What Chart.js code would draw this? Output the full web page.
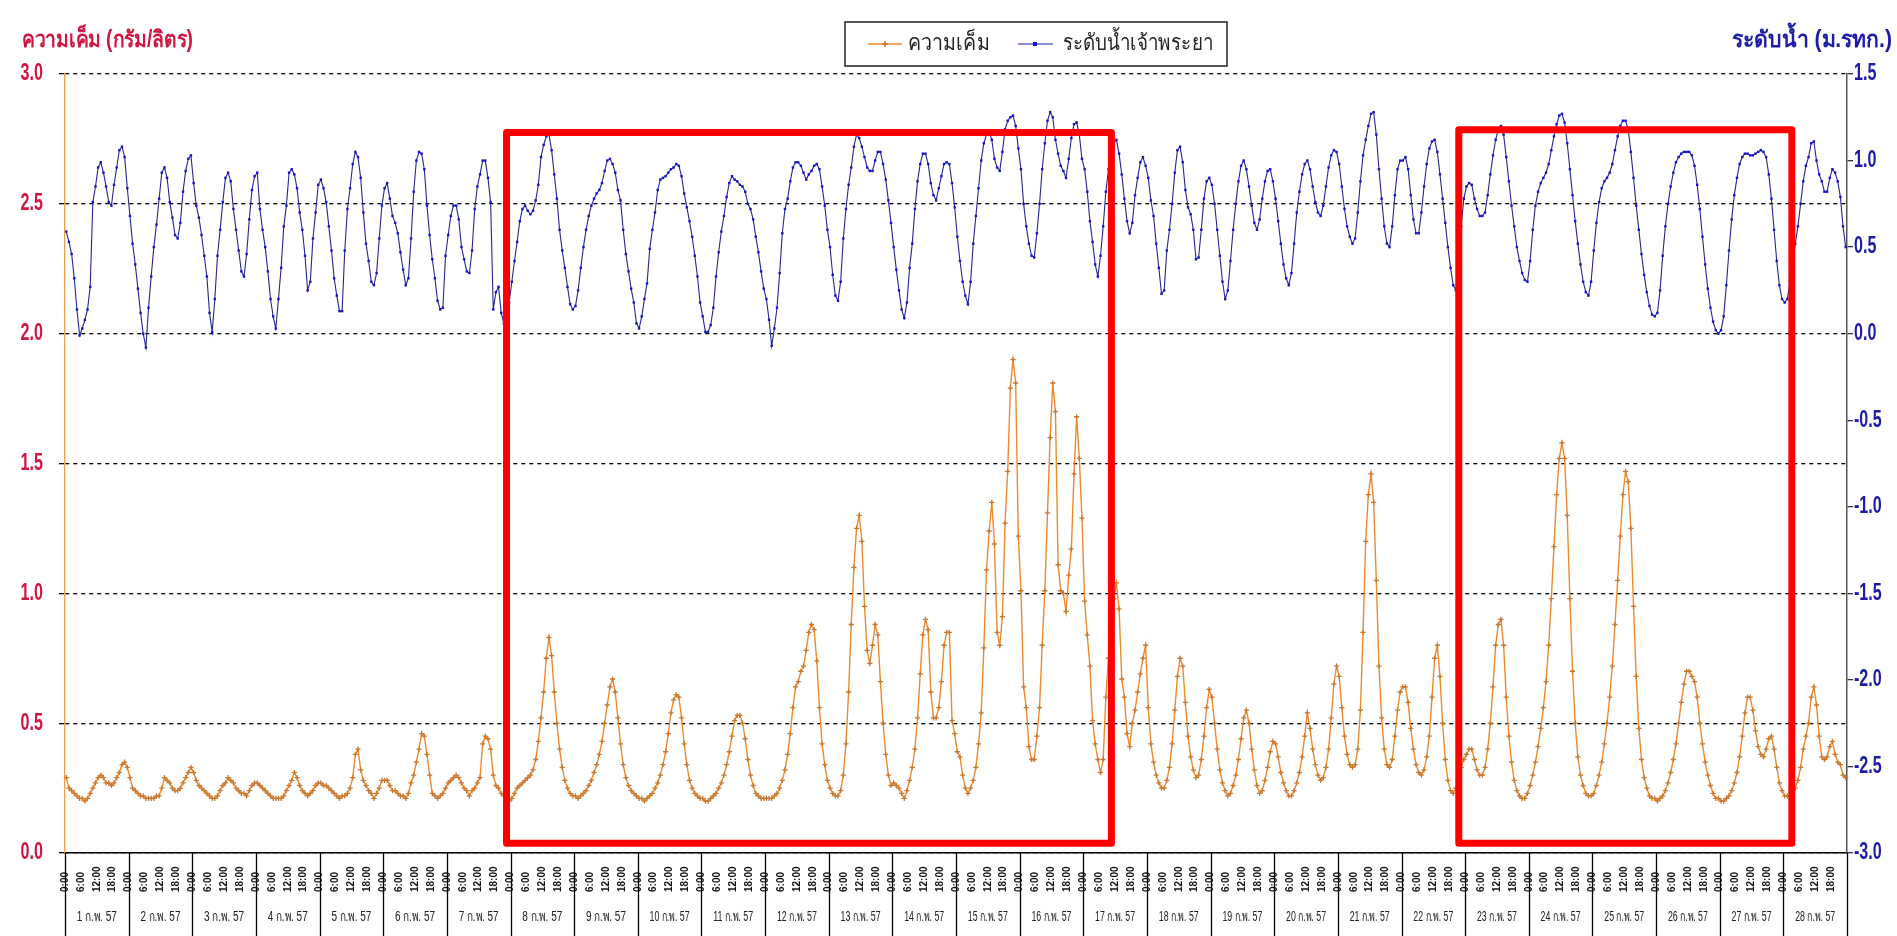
<!DOCTYPE html>
<html lang="th">
<head>
<meta charset="UTF-8">
<title>ความเค็ม และ ระดับน้ำเจ้าพระยา ก.พ. 57</title>
<script src="https://cdn.jsdelivr.net/npm/chart.js"></script>
<style>
  html, body { margin: 0; padding: 0; background: #fff; }
  canvas { display: block; }
</style>
</head>
<body>
<canvas id="chart" width="1897" height="936"></canvas>
<script>
// day labels (1-28 Feb 2014 / ก.พ. 57), hourly readings
const dayLabels = Array.from({ length: 28 }, (_, i) => (i + 1) + ' ก.พ. 57');
const hourTicks = ['0:00', '6:00', '12:00', '18:00'];
const hourTickAt = [0, 6, 12, 18];

// salinity, g/l (left axis) - one row per day, 0:00 .. 23:00
const salinity = [
  0.29,0.25,0.24,0.23,0.22,0.21,0.21,0.20,0.21,0.23,0.25,0.27,0.29,0.30,0.29,0.27,0.27,0.26,0.27,0.29,0.31,0.34,0.35,0.33,
  0.29,0.25,0.24,0.23,0.22,0.22,0.21,0.21,0.21,0.21,0.22,0.22,0.25,0.29,0.28,0.27,0.25,0.24,0.24,0.25,0.27,0.29,0.31,0.33,
  0.31,0.28,0.26,0.25,0.24,0.23,0.22,0.21,0.21,0.22,0.24,0.26,0.27,0.29,0.28,0.27,0.25,0.24,0.23,0.23,0.22,0.24,0.26,0.27,
  0.27,0.26,0.25,0.24,0.23,0.22,0.21,0.21,0.21,0.21,0.22,0.24,0.26,0.28,0.31,0.29,0.26,0.24,0.23,0.22,0.23,0.24,0.26,0.27,
  0.27,0.26,0.26,0.25,0.24,0.23,0.22,0.21,0.22,0.22,0.23,0.25,0.29,0.38,0.40,0.32,0.28,0.26,0.24,0.23,0.21,0.23,0.25,0.28,
  0.28,0.28,0.26,0.24,0.24,0.23,0.22,0.22,0.21,0.23,0.27,0.30,0.35,0.40,0.46,0.45,0.38,0.30,0.23,0.22,0.21,0.22,0.23,0.25,
  0.27,0.28,0.29,0.30,0.29,0.27,0.25,0.24,0.22,0.24,0.25,0.27,0.29,0.42,0.45,0.44,0.40,0.30,0.26,0.25,0.23,0.22,0.21,0.20,
  0.21,0.23,0.25,0.26,0.27,0.28,0.29,0.30,0.32,0.36,0.43,0.52,0.62,0.75,0.83,0.76,0.62,0.50,0.40,0.33,0.28,0.25,0.23,0.22,
  0.22,0.21,0.22,0.23,0.24,0.26,0.28,0.31,0.34,0.38,0.43,0.50,0.57,0.64,0.67,0.62,0.52,0.42,0.34,0.29,0.26,0.24,0.23,0.22,
  0.21,0.21,0.20,0.21,0.22,0.23,0.25,0.27,0.30,0.34,0.39,0.46,0.54,0.59,0.61,0.60,0.52,0.42,0.34,0.28,0.25,0.23,0.22,0.21,
  0.21,0.20,0.20,0.21,0.22,0.23,0.25,0.27,0.30,0.34,0.39,0.45,0.51,0.53,0.53,0.50,0.44,0.36,0.30,0.26,0.23,0.22,0.21,0.21,
  0.21,0.21,0.21,0.22,0.23,0.25,0.28,0.32,0.38,0.46,0.56,0.64,0.66,0.70,0.72,0.78,0.85,0.88,0.86,0.74,0.56,0.42,0.34,0.28,
  0.25,0.23,0.22,0.22,0.24,0.30,0.42,0.62,0.88,1.10,1.25,1.30,1.20,0.95,0.78,0.73,0.80,0.88,0.84,0.66,0.50,0.38,0.30,0.26,
  0.27,0.26,0.25,0.23,0.21,0.24,0.28,0.33,0.40,0.52,0.69,0.84,0.90,0.86,0.62,0.52,0.52,0.56,0.66,0.80,0.85,0.85,0.51,0.46,
  0.39,0.37,0.30,0.25,0.23,0.25,0.28,0.33,0.42,0.54,0.79,1.09,1.24,1.35,1.19,0.85,0.80,0.91,1.27,1.47,1.79,1.90,1.81,1.22,
  1.01,0.64,0.56,0.41,0.36,0.36,0.45,0.56,0.80,1.01,1.31,1.60,1.81,1.70,1.11,1.01,1.00,0.93,1.07,1.17,1.46,1.68,1.52,1.29,
  0.97,0.84,0.72,0.51,0.42,0.36,0.31,0.36,0.60,0.75,0.88,0.98,1.04,0.94,0.67,0.60,0.46,0.41,0.50,0.55,0.62,0.69,0.75,0.80,
  0.56,0.42,0.35,0.30,0.27,0.25,0.25,0.28,0.33,0.42,0.55,0.68,0.75,0.72,0.58,0.45,0.37,0.32,0.29,0.30,0.36,0.45,0.56,0.63,
  0.60,0.50,0.40,0.32,0.27,0.24,0.22,0.23,0.26,0.30,0.36,0.44,0.52,0.55,0.50,0.40,0.32,0.26,0.23,0.24,0.28,0.33,0.39,0.43,
  0.42,0.37,0.31,0.27,0.24,0.22,0.22,0.24,0.27,0.31,0.37,0.45,0.54,0.48,0.40,0.34,0.30,0.28,0.29,0.33,0.40,0.52,0.65,0.72,
  0.68,0.56,0.45,0.38,0.34,0.33,0.34,0.40,0.55,0.85,1.20,1.38,1.46,1.35,1.05,0.72,0.52,0.40,0.34,0.33,0.36,0.45,0.55,0.62,
  0.64,0.64,0.58,0.48,0.40,0.34,0.31,0.30,0.32,0.37,0.45,0.60,0.75,0.80,0.68,0.50,0.36,0.28,0.24,0.23,0.25,0.28,0.33,0.36,
  0.38,0.40,0.40,0.36,0.32,0.30,0.30,0.33,0.40,0.50,0.64,0.80,0.88,0.90,0.80,0.60,0.45,0.35,0.28,0.24,0.22,0.21,0.21,0.23,
  0.26,0.30,0.35,0.41,0.48,0.56,0.66,0.80,0.98,1.18,1.38,1.52,1.58,1.52,1.30,0.98,0.70,0.50,0.37,0.30,0.26,0.23,0.22,0.22,
  0.23,0.26,0.30,0.35,0.42,0.50,0.60,0.72,0.88,1.05,1.22,1.38,1.47,1.43,1.25,0.95,0.68,0.48,0.36,0.29,0.25,0.22,0.21,0.21,
  0.20,0.21,0.22,0.24,0.27,0.31,0.36,0.42,0.50,0.58,0.65,0.70,0.70,0.68,0.66,0.60,0.50,0.42,0.35,0.30,0.26,0.23,0.21,0.21,
  0.20,0.20,0.21,0.22,0.24,0.27,0.31,0.37,0.45,0.54,0.60,0.60,0.55,0.47,0.41,0.38,0.37,0.40,0.44,0.45,0.40,0.33,0.27,0.24,
  0.22,0.22,0.22,0.23,0.25,0.28,0.33,0.40,0.45,0.50,0.60,0.64,0.57,0.45,0.37,0.36,0.37,0.41,0.43,0.38,0.35,0.34,0.30,0.29
];

// Chao Phraya water level, m MSL (right axis) - one row per day
const waterLevel = [
  0.59,0.53,0.46,0.32,0.14,-0.01,0.03,0.08,0.14,0.27,0.76,0.85,0.96,0.99,0.93,0.85,0.76,0.74,0.86,0.96,1.06,1.08,1.02,0.84,
  0.68,0.52,0.40,0.26,0.12,0.00,-0.08,0.15,0.33,0.50,0.63,0.78,0.93,0.96,0.90,0.76,0.67,0.57,0.55,0.64,0.82,0.94,1.01,1.03,
  0.87,0.74,0.67,0.57,0.45,0.33,0.12,0.01,0.20,0.45,0.60,0.76,0.90,0.93,0.88,0.72,0.60,0.48,0.36,0.33,0.46,0.66,0.83,0.91,
  0.93,0.72,0.60,0.50,0.36,0.20,0.10,0.03,0.20,0.38,0.62,0.74,0.93,0.95,0.92,0.84,0.70,0.60,0.45,0.25,0.30,0.55,0.70,0.86,
  0.89,0.84,0.76,0.62,0.48,0.32,0.22,0.13,0.13,0.48,0.72,0.84,0.98,1.05,1.02,0.90,0.70,0.52,0.42,0.30,0.28,0.35,0.55,0.74,
  0.84,0.87,0.78,0.68,0.64,0.58,0.47,0.37,0.28,0.32,0.55,0.82,1.00,1.05,1.04,0.95,0.74,0.57,0.43,0.32,0.19,0.14,0.15,0.45,
  0.57,0.68,0.74,0.74,0.66,0.50,0.43,0.36,0.35,0.48,0.72,0.85,0.92,1.00,1.00,0.90,0.76,0.14,0.24,0.27,0.12,0.06,0.10,0.18,
  0.30,0.42,0.53,0.65,0.72,0.74,0.71,0.69,0.71,0.77,0.86,1.02,1.09,1.14,1.15,1.06,0.92,0.78,0.60,0.48,0.38,0.27,0.17,0.14,
  0.16,0.25,0.38,0.50,0.60,0.68,0.74,0.78,0.81,0.83,0.87,0.94,1.00,1.01,0.98,0.93,0.83,0.77,0.60,0.46,0.36,0.26,0.18,0.06,
  0.03,0.10,0.20,0.29,0.49,0.60,0.70,0.83,0.89,0.90,0.91,0.93,0.95,0.96,0.98,0.97,0.91,0.81,0.73,0.65,0.56,0.45,0.33,0.18,
  0.10,0.01,0.01,0.05,0.15,0.33,0.47,0.59,0.68,0.79,0.87,0.91,0.89,0.88,0.86,0.85,0.82,0.75,0.72,0.66,0.56,0.47,0.36,0.26,
  0.20,0.08,-0.07,0.03,0.15,0.35,0.58,0.72,0.78,0.88,0.96,0.99,0.99,0.97,0.93,0.89,0.92,0.94,0.97,0.98,0.95,0.85,0.74,0.60,
  0.50,0.34,0.22,0.19,0.30,0.55,0.72,0.86,0.96,1.08,1.15,1.13,1.08,1.02,0.96,0.94,0.94,1.00,1.05,1.05,0.98,0.89,0.77,0.64,
  0.50,0.37,0.25,0.14,0.09,0.18,0.38,0.52,0.72,0.88,0.98,1.04,1.04,0.98,0.87,0.80,0.77,0.84,0.91,0.98,0.99,0.98,0.87,0.73,
  0.56,0.42,0.30,0.22,0.17,0.30,0.52,0.68,0.84,1.00,1.10,1.15,1.17,1.12,1.01,0.96,0.94,1.05,1.18,1.23,1.25,1.26,1.20,1.07,
  0.95,0.75,0.62,0.52,0.45,0.44,0.58,0.75,0.95,1.10,1.23,1.28,1.25,1.12,1.04,0.97,0.94,0.90,1.01,1.13,1.21,1.22,1.15,1.01,
  0.95,0.82,0.65,0.53,0.40,0.33,0.45,0.62,0.82,0.95,1.05,1.10,1.12,1.04,0.92,0.78,0.65,0.58,0.64,0.80,0.90,0.99,1.02,0.97,
  0.90,0.77,0.68,0.52,0.38,0.23,0.25,0.48,0.60,0.75,0.93,1.06,1.08,0.99,0.83,0.73,0.69,0.60,0.43,0.44,0.60,0.78,0.88,0.90,
  0.86,0.75,0.60,0.45,0.30,0.20,0.25,0.42,0.60,0.75,0.88,0.97,1.00,0.95,0.85,0.74,0.64,0.60,0.66,0.78,0.88,0.94,0.95,0.88,
  0.78,0.65,0.52,0.40,0.32,0.28,0.35,0.52,0.70,0.82,0.92,0.98,1.00,0.95,0.85,0.76,0.70,0.68,0.74,0.85,0.96,1.03,1.06,1.05,
  0.98,0.85,0.72,0.62,0.56,0.52,0.55,0.70,0.88,1.03,1.12,1.20,1.27,1.28,1.15,0.95,0.78,0.62,0.52,0.50,0.62,0.80,0.95,1.00,
  1.00,1.02,0.95,0.80,0.66,0.58,0.58,0.70,0.85,0.98,1.07,1.11,1.12,1.05,0.92,0.78,0.64,0.50,0.38,0.28,0.25,0.40,0.62,0.78,
  0.85,0.87,0.86,0.78,0.72,0.68,0.68,0.70,0.80,0.92,1.03,1.12,1.18,1.20,1.15,1.02,0.88,0.74,0.62,0.50,0.42,0.35,0.31,0.30,
  0.42,0.60,0.74,0.82,0.87,0.90,0.93,0.98,1.06,1.14,1.21,1.26,1.27,1.22,1.10,0.95,0.80,0.65,0.52,0.40,0.30,0.24,0.22,0.30,
  0.48,0.64,0.76,0.84,0.88,0.90,0.93,0.98,1.06,1.14,1.20,1.23,1.23,1.18,1.05,0.90,0.74,0.60,0.46,0.34,0.24,0.16,0.11,0.10,
  0.12,0.25,0.45,0.62,0.75,0.85,0.93,0.99,1.02,1.04,1.05,1.05,1.05,1.03,0.97,0.86,0.72,0.56,0.40,0.26,0.15,0.07,0.02,0.00,
  0.02,0.10,0.28,0.48,0.66,0.80,0.90,0.98,1.02,1.04,1.04,1.03,1.03,1.04,1.05,1.06,1.05,1.02,0.92,0.78,0.60,0.42,0.28,0.20,
  0.18,0.20,0.30,0.42,0.52,0.62,0.75,0.88,0.97,1.02,1.10,1.11,1.00,0.92,0.88,0.82,0.82,0.90,0.95,0.93,0.88,0.79,0.62,0.50
];

// highlighted periods: [first hour, last hour, top, bottom] in axis units
const redBoxes = [
  [166.0, 394.1, 2.775, 0.038],
  [525.1, 650.7, 2.785, 0.038]
];

const labels = [];
dayLabels.forEach(d => { for (let h = 0; h < 24; h++) labels.push(d + ' ' + h + ':00'); });

const SANS = '"Liberation Sans", Arial, sans-serif';
const RED = '#d01540';
const NAVY = '#1c1ca8';
const ORANGE = '#ee8a2e';
const ORANGE_PT = '#c8782e';

// draws text squeezed to a given width (the original uses a condensed face)
function squeezed(ctx, text, left, midY, width) {
  const w = ctx.measureText(text).width;
  ctx.save();
  ctx.translate(left, midY);
  ctx.scale(width / w, 1);
  ctx.textAlign = 'left';
  ctx.textBaseline = 'middle';
  ctx.fillText(text, 0, 0);
  ctx.restore();
}

// draws text with a fixed horizontal squeeze, anchored left or right
function narrowText(ctx, text, x, midY, sx, align) {
  const w = ctx.measureText(text).width * sx;
  squeezed(ctx, text, align === 'right' ? x - w : x, midY, w);
}

const decorations = {
  id: 'decorations',
  afterDatasetsDraw(chart) {
    const { ctx, scales: { x, y } } = chart;
    ctx.save();
    ctx.strokeStyle = '#ff0000';
    ctx.lineWidth = 7;
    ctx.lineJoin = 'round';
    redBoxes.forEach(b => {
      const x0 = x.getPixelForValue(b[0]), x1 = x.getPixelForValue(b[1]);
      const y0 = y.getPixelForValue(b[2]), y1 = y.getPixelForValue(b[3]);
      ctx.strokeRect(x0, y0, x1 - x0, y1 - y0);
    });
    ctx.restore();
  },
  afterDraw(chart) {
    const { ctx, chartArea: area, scales: { x, y, y1 } } = chart;
    ctx.save();

    // value labels of both vertical axes
    ctx.font = 'bold 23px ' + SANS;
    ctx.fillStyle = RED;
    y.ticks.forEach(t => narrowText(ctx, t.value.toFixed(1), 43, y.getPixelForValue(t.value), 0.7, 'right'));
    ctx.fillStyle = NAVY;
    y1.ticks.forEach(t => narrowText(ctx, t.value.toFixed(1), 1854, y1.getPixelForValue(t.value), 0.7, 'left'));

    // axis titles
    ctx.font = 'bold 23px ' + SANS;
    ctx.fillStyle = RED;
    squeezed(ctx, 'ความเค็ม (กรัม/ลิตร)', 22, 41, 171);
    ctx.fillStyle = NAVY;
    squeezed(ctx, 'ระดับน้ำ (ม.รทก.)', 1732, 41, 160);

    // legend
    ctx.strokeStyle = '#222';
    ctx.lineWidth = 1.5;
    ctx.strokeRect(845, 22, 382, 44);
    ctx.strokeStyle = ORANGE;
    ctx.beginPath(); ctx.moveTo(868, 44); ctx.lineTo(902, 44); ctx.stroke();
    ctx.strokeStyle = ORANGE_PT;
    ctx.beginPath(); ctx.moveTo(885, 41); ctx.lineTo(885, 47); ctx.moveTo(882, 44); ctx.lineTo(888, 44); ctx.stroke();
    ctx.strokeStyle = NAVY;
    ctx.lineWidth = 1.2;
    ctx.beginPath(); ctx.moveTo(1018, 44); ctx.lineTo(1053, 44); ctx.stroke();
    ctx.fillStyle = '#1414c8';
    ctx.fillRect(1033, 42, 4, 4);
    ctx.fillStyle = '#222';
    ctx.font = '22px ' + SANS;
    squeezed(ctx, 'ความเค็ม', 908, 44, 82);
    squeezed(ctx, 'ระดับน้ำเจ้าพระยา', 1063, 44, 150);

    // day separators and category labels under the axis
    ctx.strokeStyle = '#000';
    ctx.lineWidth = 1.3;
    for (let d = 0; d <= dayLabels.length; d++) {
      const px = Math.round(x.getPixelForValue(d * 24 - 0.5)) + 0.5;
      ctx.beginPath(); ctx.moveTo(px, area.bottom); ctx.lineTo(px, 936); ctx.stroke();
    }
    ctx.fillStyle = '#111';
    ctx.font = 'bold 10px ' + SANS;
    dayLabels.forEach((d, i) => {
      hourTicks.forEach((t, k) => {
        const px = x.getPixelForValue(i * 24 + hourTickAt[k] - 0.5);
        ctx.save();
        ctx.translate(px, 892);
        ctx.rotate(-Math.PI / 2);
        ctx.textAlign = 'left';
        ctx.textBaseline = 'middle';
        ctx.fillText(t, 0, 0);
        ctx.restore();
      });
    });
    ctx.fillStyle = '#222';
    ctx.font = '14px ' + SANS;
    dayLabels.forEach((d, i) => {
      const cx = x.getPixelForValue(i * 24 + 11.5);
      const w = 40;
      squeezed(ctx, d, cx - w / 2, 917, w);
    });
    ctx.restore();
  }
};

new Chart(document.getElementById('chart'), {
  type: 'line',
  data: {
    labels: labels,
    datasets: [
      {
        label: 'ความเค็ม',
        data: salinity,
        yAxisID: 'y',
        borderColor: ORANGE,
        borderWidth: 1.4,
        pointStyle: 'cross',
        pointRadius: 2.6,
        pointBorderWidth: 1.3,
        pointBorderColor: ORANGE_PT,
        pointBackgroundColor: ORANGE_PT,
        tension: 0
      },
      {
        label: 'ระดับน้ำเจ้าพระยา',
        data: waterLevel,
        yAxisID: 'y1',
        borderColor: '#26268c',
        borderWidth: 1.1,
        pointStyle: 'rect',
        pointRadius: 1.7,
        pointBorderWidth: 0,
        pointBackgroundColor: '#1414c8',
        tension: 0
      }
    ]
  },
  options: {
    responsive: false,
    animation: false,
    devicePixelRatio: 1,
    layout: { padding: { top: 74, left: 0, right: 0, bottom: 0 } },
    plugins: { legend: { display: false }, tooltip: { enabled: false } },
    scales: {
      x: {
        type: 'category',
        offset: true,
        grid: { display: false },
        border: { display: true, color: '#000', width: 1.5 },
        ticks: { display: false },
        afterFit(s) { s.height = 83; }
      },
      y: {
        position: 'left',
        min: 0,
        max: 3,
        ticks: { stepSize: 0.5, display: false },
        grid: { color: '#000', lineWidth: 1.3, tickLength: 6 },
        border: { color: '#e8a050', width: 1.3, dash: [4, 4] },
        afterFit(s) { s.width = 65; }
      },
      y1: {
        position: 'right',
        min: -3,
        max: 1.5,
        ticks: { stepSize: 0.5, display: false },
        grid: { drawOnChartArea: false, color: '#333', lineWidth: 1.3, tickLength: 6 },
        border: { color: '#555', width: 1.5 },
        afterFit(s) { s.width = 50; }
      }
    }
  },
  plugins: [decorations]
});
</script>
</body>
</html>
